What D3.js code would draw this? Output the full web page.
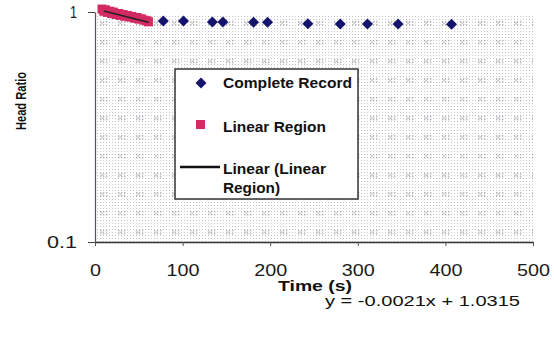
<!DOCTYPE html>
<html>
<head>
<meta charset="utf-8">
<script src="https://cdn.jsdelivr.net/npm/d3@7"></script>
<style>
  html, body { margin: 0; padding: 0; background: #fff; }
  svg { display: block; font-family: "Liberation Sans", Arial, sans-serif; }
</style>
</head>
<body>
<svg id="chart" width="554" height="339"></svg>
<script>
// ---- data ----
const xTicks = [0, 100, 200, 300, 400, 500];
const xTickLabels = ["0", "100", "200", "300", "400", "500"];
const yTicks = [0.1, 1];
const yTickLabels = ["0.1", "1"];

const completeTime = [78, 101, 134, 146, 181, 197, 243, 280, 311, 346, 407];
const completeRatio = [0.914, 0.913, 0.905, 0.904, 0.903, 0.902, 0.888, 0.887, 0.887, 0.886, 0.885];

const linearTime = [8, 10, 12, 14, 17, 19, 21, 24, 27, 29, 32, 34, 37, 40, 42, 45, 48, 50, 53, 56, 59, 61];
const linearRatio = [1.030, 1.008, 1.022, 0.996, 1.008, 0.985, 0.999, 0.975, 0.985, 0.966, 0.975, 0.958, 0.966, 0.950, 0.957, 0.940, 0.946, 0.932, 0.934, 0.922, 0.916, 0.906];

const fitSlope = -0.0021;
const fitIntercept = 1.0315;
const fitRange = [10, 61];

const seriesNames = ["Complete Record", "Linear Region", "Linear (Linear", "Region)"];
const xTitle = "Time (s)";
const yTitle = "Head Ratio";
const equationText = "y = -0.0021x + 1.0315";

// ---- layout ----
const svg = d3.select("#chart");
const L = 95, R = 533, T = 12, B = 242;

const x = d3.scaleLinear().domain([0, 500]).range([L, R]);
const y = d3.scaleLog().domain([0.1, 1]).range([B, T]);

// stippled background pattern
const defs = svg.append("defs");
const pat = defs.append("pattern").attr("id", "dots")
  .attr("patternUnits", "userSpaceOnUse").attr("width", 3).attr("height", 3);
pat.append("rect").attr("x", 1).attr("y", 1).attr("width", 1).attr("height", 1).attr("fill", "#a8a8b0");
const pat2 = defs.append("pattern").attr("id", "cols")
  .attr("patternUnits", "userSpaceOnUse").attr("width", 18).attr("height", 19)
  .attr("x", L + 4).attr("y", T + 8);
[[0,0],[3,0],[1.5,1.5],[0,3],[3,3],[6,0],[6,3]].forEach(([a, b]) => {
  pat2.append("rect").attr("x", a + 1).attr("y", b + 1).attr("width", 1.4).attr("height", 1.4).attr("fill", "#8a8a92");
});

svg.append("rect").attr("x", L).attr("y", T + 2).attr("width", R - L).attr("height", B - T - 2)
  .attr("fill", "url(#dots)").attr("opacity", 0.65);
svg.append("rect").attr("x", L).attr("y", T + 2).attr("width", R - L).attr("height", B - T - 2)
  .attr("fill", "url(#cols)").attr("opacity", 0.6);

// axes
const xAxis = d3.axisBottom(x).tickValues(xTicks).tickFormat((d, i) => xTickLabels[i]).tickSize(4).tickSizeOuter(0);
const gx = svg.append("g").attr("transform", `translate(0,${B})`).call(xAxis);
gx.select(".domain").attr("stroke", "#333").attr("stroke-width", 1.5);
gx.selectAll(".tick line").attr("stroke", "#555");
gx.selectAll(".tick text").attr("font-size", 16).attr("fill", "#1a1a1a").attr("dy", "0").attr("y", 34)
  .attr("font-family", "Liberation Sans, Arial, sans-serif")
  .each(function(d, i) { d3.select(this).attr("textLength", xTickLabels[i].length * 11).attr("lengthAdjust", "spacingAndGlyphs"); });

const yAxis = d3.axisLeft(y).tickValues(yTicks).tickFormat((d, i) => yTickLabels[i]).tickSize(7).tickSizeOuter(0);
const gy = svg.append("g").attr("transform", `translate(${L},0)`).call(yAxis);
gy.select(".domain").attr("stroke", "#556").attr("stroke-width", 1.2);
gy.selectAll(".tick line").attr("stroke", "#444");
gy.selectAll(".tick text").attr("font-size", 17).attr("fill", "#1a1a1a").attr("x", -18)
  .attr("font-family", "Liberation Sans, Arial, sans-serif")
  .each(function(d, i) { d3.select(this).attr("textLength", yTickLabels[i] === "1" ? 7 : 30).attr("lengthAdjust", "spacingAndGlyphs"); });

// axis titles
svg.append("text").attr("x", 315).attr("y", 291).attr("text-anchor", "middle")
  .attr("font-size", 15).attr("font-weight", "bold").attr("fill", "#111")
  .attr("textLength", 74).attr("lengthAdjust", "spacingAndGlyphs").text(xTitle);
svg.append("text").attr("transform", "translate(26,101) rotate(-90)").attr("text-anchor", "middle")
  .attr("font-size", 14).attr("font-weight", "bold").attr("fill", "#111")
  .attr("textLength", 58).attr("lengthAdjust", "spacingAndGlyphs").text(yTitle);

// equation
svg.append("text").attr("x", 325).attr("y", 306).attr("font-size", 15).attr("fill", "#111")
  .attr("textLength", 195).attr("lengthAdjust", "spacingAndGlyphs").text(equationText);

// diamond path (square rotated 45deg)
const dia = r => `M0,${-r}L${r},0L0,${r}L${-r},0Z`;

// complete record diamonds
svg.append("g").selectAll("path").data(completeTime.map((t, i) => [t, completeRatio[i]]))
  .join("path").attr("d", dia(5.5))
  .attr("transform", d => `translate(${x(d[0])},${y(d[1])})`)
  .attr("fill", "#14146e");

// linear region squares
svg.append("g").selectAll("rect").data(linearTime.map((t, i) => [t, linearRatio[i]]))
  .join("rect")
  .attr("x", d => x(d[0]) - 4.5).attr("y", d => y(d[1]) - 4.5)
  .attr("width", 9).attr("height", 9).attr("fill", "#d42a62");

// fit line
svg.append("line")
  .attr("x1", x(fitRange[0])).attr("y1", y(fitSlope * fitRange[0] + fitIntercept))
  .attr("x2", x(fitRange[1])).attr("y2", y(fitSlope * fitRange[1] + fitIntercept))
  .attr("stroke", "#222").attr("stroke-width", 1.5);

// legend
const lg = svg.append("g");
lg.append("rect").attr("x", 175).attr("y", 69).attr("width", 183).attr("height", 130)
  .attr("fill", "#fff").attr("stroke", "#333").attr("stroke-width", 1.5);
lg.append("path").attr("d", dia(5.5))
  .attr("transform", "translate(201,83)").attr("fill", "#14146e");
lg.append("rect").attr("x", 196).attr("y", 120).attr("width", 9).attr("height", 9).attr("fill", "#d42a62");
lg.append("line").attr("x1", 180).attr("x2", 220).attr("y1", 167).attr("y2", 167)
  .attr("stroke", "#111").attr("stroke-width", 2.5);
const legendLabels = [
  { t: seriesNames[0], y: 88, w: 129 },
  { t: seriesNames[1], y: 132, w: 103 },
  { t: seriesNames[2], y: 174, w: 103 },
  { t: seriesNames[3], y: 193, w: 57 }
];
lg.selectAll("text.lbl").data(legendLabels).join("text").attr("class", "lbl")
  .attr("x", 223).attr("y", d => d.y).attr("font-size", 14).attr("font-weight", "bold").attr("fill", "#111")
  .attr("textLength", d => d.w).attr("lengthAdjust", "spacingAndGlyphs").text(d => d.t);
</script>
</body>
</html>
